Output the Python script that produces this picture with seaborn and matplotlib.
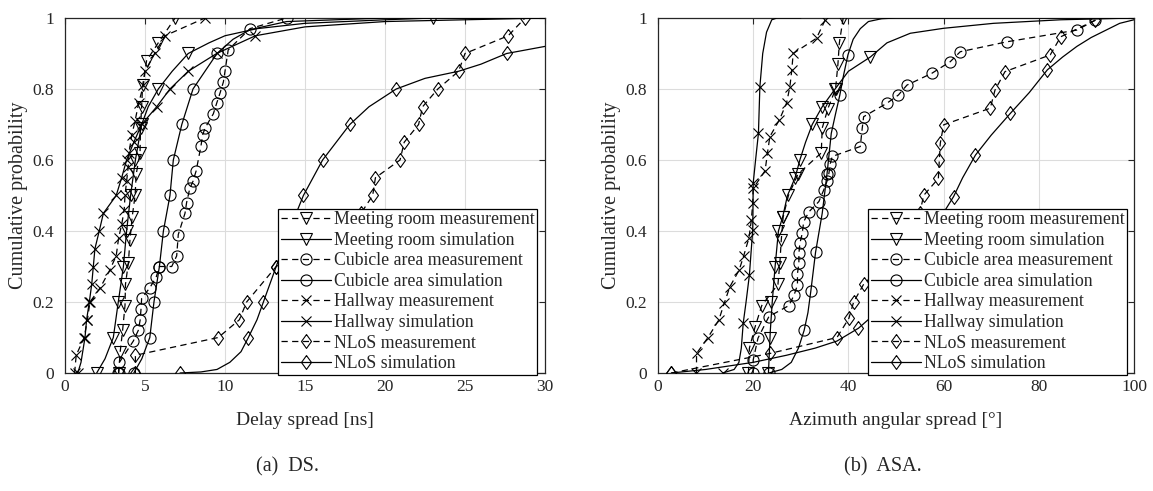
import numpy as np
import pandas as pd
import matplotlib
matplotlib.use("Agg")
import matplotlib.pyplot as plt
import seaborn as sns
from matplotlib.lines import Line2D
from matplotlib.ticker import FormatStrFormatter, MultipleLocator

# ---------------- (a) Delay spread [ns] ----------------
ds_meet_meas_x = [3.35, 3.45, 3.6, 3.75, 3.78, 3.96, 4.06, 4.2, 4.38, 4.45, 4.69, 4.72, 4.79, 4.85, 5.1, 5.83, 6.88]
ds_meet_meas_y = [0.0, 0.06, 0.12, 0.19, 0.25, 0.31, 0.375, 0.44, 0.5, 0.56, 0.62, 0.69, 0.75, 0.81, 0.88, 0.93, 1.0]
ds_meet_sim_x = [1.98, 2.5, 3.02, 3.33, 3.65, 3.85, 4.1, 4.4, 4.79, 5.2, 5.83, 6.7, 7.7, 9.0, 10.0, 12.0, 15.0, 20.0, 23.0, 30.0]
ds_meet_sim_y = [0.0, 0.04, 0.1, 0.2, 0.3, 0.4, 0.5, 0.6, 0.7, 0.75, 0.8, 0.85, 0.9, 0.93, 0.95, 0.97, 0.985, 0.995, 1.0, 1.0]
ds_meet_mk_x = [1.98, 3.02, 3.33, 3.65, 3.85, 4.1, 4.4, 4.79, 5.83, 7.7, 23.0]
ds_meet_mk_y = [0.0, 0.1, 0.2, 0.3, 0.4, 0.5, 0.6, 0.7, 0.8, 0.9, 1.0]

ds_cub_meas_x = [3.33, 3.35, 3.4, 4.27, 4.58, 4.7, 4.75, 4.79, 5.3, 5.7, 5.9, 6.67, 6.98, 7.08, 7.5, 7.6, 7.8, 8.0, 8.2, 8.5, 8.6, 8.75, 9.27, 9.48, 9.7, 9.9, 10.0, 10.2, 11.56, 13.85]
ds_cub_meas_y = [0.0, 0.0, 0.03, 0.09, 0.12, 0.15, 0.18, 0.21, 0.24, 0.27, 0.3, 0.3, 0.33, 0.39, 0.45, 0.48, 0.52, 0.54, 0.57, 0.64, 0.67, 0.69, 0.73, 0.76, 0.79, 0.82, 0.85, 0.91, 0.97, 1.0]
ds_cub_sim_x = [4.3, 4.8, 5.3, 5.56, 5.9, 6.15, 6.56, 6.77, 7.3, 8.0, 9.5, 10.5, 11.56, 13.85, 20.0, 30.0]
ds_cub_sim_y = [0.0, 0.04, 0.1, 0.2, 0.3, 0.4, 0.5, 0.6, 0.7, 0.8, 0.9, 0.94, 0.967, 0.99, 1.0, 1.0]
ds_cub_mk_x = [4.3, 5.3, 5.56, 5.9, 6.15, 6.56, 6.77, 7.3, 8.0, 9.5]
ds_cub_mk_y = [0.0, 0.1, 0.2, 0.3, 0.4, 0.5, 0.6, 0.7, 0.8, 0.9]

ds_hall_meas_x = [0.6, 0.7, 1.2, 1.4, 1.56, 2.2, 2.8, 3.2, 3.35, 3.55, 3.7, 3.75, 3.85, 3.95, 4.0, 4.17, 4.38, 4.6, 4.9, 5.0, 5.6, 6.25, 8.75]
ds_hall_meas_y = [0.0, 0.05, 0.1, 0.15, 0.2, 0.24, 0.29, 0.33, 0.38, 0.42, 0.46, 0.5, 0.54, 0.58, 0.62, 0.67, 0.71, 0.76, 0.81, 0.85, 0.9, 0.95, 1.0]
ds_hall_sim_x = [0.8, 1.0, 1.25, 1.35, 1.52, 1.67, 1.77, 1.87, 2.14, 2.4, 3.2, 3.54, 3.85, 4.3, 4.79, 5.73, 6.56, 7.7, 9.48, 11.9, 15.0, 20.0, 30.0]
ds_hall_sim_y = [0.0, 0.03, 0.1, 0.15, 0.2, 0.25, 0.3, 0.35, 0.4, 0.45, 0.5, 0.55, 0.6, 0.65, 0.7, 0.75, 0.8, 0.85, 0.9, 0.95, 0.975, 0.99, 1.0]
ds_hall_mk_x = [0.8, 1.25, 1.35, 1.52, 1.67, 1.77, 1.87, 2.14, 2.4, 3.2, 3.54, 3.85, 4.3, 4.79, 5.73, 6.56, 7.7, 9.48, 11.9]
ds_hall_mk_y = [0.0, 0.1, 0.15, 0.2, 0.25, 0.3, 0.35, 0.4, 0.45, 0.5, 0.55, 0.6, 0.65, 0.7, 0.75, 0.8, 0.85, 0.9, 0.95]

ds_nlos_meas_x = [4.4, 4.4, 9.58, 10.9, 11.35, 13.2, 15.0, 17.0, 18.5, 19.23, 19.4, 20.94, 21.2, 22.1, 22.35, 23.3, 24.6, 25.0, 27.7, 28.75]
ds_nlos_meas_y = [0.0, 0.05, 0.1, 0.15, 0.2, 0.3, 0.35, 0.4, 0.45, 0.5, 0.55, 0.6, 0.65, 0.7, 0.75, 0.8, 0.85, 0.9, 0.95, 1.0]
ds_nlos_sim_x = [7.19, 8.5, 9.5, 10.3, 11.0, 11.46, 12.0, 12.4, 13.2, 14.0, 14.9, 16.1, 17.8, 19.0, 20.7, 22.5, 24.6, 26.0, 27.6, 30.0]
ds_nlos_sim_y = [0.0, 0.003, 0.01, 0.03, 0.06, 0.1, 0.15, 0.2, 0.3, 0.4, 0.5, 0.6, 0.7, 0.75, 0.8, 0.83, 0.85, 0.87, 0.9, 0.92]
ds_nlos_mk_x = [7.19, 11.46, 12.4, 13.2, 14.0, 14.9, 16.1, 17.8, 20.7, 27.6]
ds_nlos_mk_y = [0.0, 0.1, 0.2, 0.3, 0.4, 0.5, 0.6, 0.7, 0.8, 0.9]

# ---------------- (b) Azimuth angular spread [deg] ----------------
as_meet_meas_x = [19.0, 19.2, 20.4, 21.8, 25.2, 25.6, 25.9, 26.3, 27.4, 29.4, 34.3, 34.5, 35.7, 37.3, 37.8, 38.1, 38.9]
as_meet_meas_y = [0.0, 0.07, 0.13, 0.19, 0.25, 0.31, 0.375, 0.44, 0.5, 0.56, 0.62, 0.69, 0.745, 0.8, 0.87, 0.93, 1.0]
as_meet_sim_x = [23.2, 23.4, 23.6, 24.0, 24.6, 25.3, 26.2, 27.2, 28.8, 29.8, 31.0, 32.4, 34.5, 37.2, 40.0, 44.6, 48.1, 53.0, 60.0, 70.5, 84.6, 100.0]
as_meet_sim_y = [0.0, 0.06, 0.12, 0.2, 0.3, 0.4, 0.44, 0.5, 0.55, 0.6, 0.65, 0.7, 0.75, 0.8, 0.85, 0.89, 0.93, 0.957, 0.971, 0.985, 0.995, 1.0]
as_meet_mk_x = [23.2, 23.5, 23.7, 24.6, 25.3, 26.2, 28.8, 29.8, 32.4, 34.5, 37.2, 44.6]
as_meet_mk_y = [0.0, 0.1, 0.2, 0.3, 0.4, 0.44, 0.55, 0.6, 0.7, 0.75, 0.8, 0.89]

as_cub_meas_x = [20.0, 20.0, 21.0, 23.3, 27.5, 28.6, 29.3, 29.3, 29.6, 29.6, 29.8, 30.3, 30.6, 31.7, 33.8, 34.8, 35.5, 35.9, 36.2, 36.6, 42.5, 42.9, 43.2, 48.1, 50.5, 52.3, 57.5, 61.4, 63.5, 73.3, 88.0, 91.9]
as_cub_meas_y = [0.0, 0.037, 0.098, 0.159, 0.19, 0.22, 0.248, 0.28, 0.31, 0.337, 0.365, 0.393, 0.426, 0.454, 0.483, 0.515, 0.54, 0.562, 0.59, 0.61, 0.638, 0.689, 0.722, 0.76, 0.783, 0.811, 0.844, 0.877, 0.905, 0.933, 0.966, 0.994]
as_cub_sim_x = [23.3, 26.0, 28.0, 29.5, 30.7, 31.5, 32.1, 33.1, 34.5, 35.5, 36.4, 37.3, 38.2, 39.0, 39.9, 41.0, 42.5, 44.2, 47.0, 50.0, 100.0]
as_cub_sim_y = [0.0, 0.01, 0.03, 0.07, 0.12, 0.17, 0.23, 0.34, 0.45, 0.56, 0.675, 0.73, 0.783, 0.84, 0.896, 0.94, 0.97, 0.99, 0.998, 1.0, 1.0]
as_cub_mk_x = [23.3, 30.7, 32.1, 33.1, 34.5, 35.5, 36.4, 38.2, 39.9]
as_cub_mk_y = [0.0, 0.12, 0.23, 0.34, 0.45, 0.56, 0.675, 0.783, 0.896]

as_hall_meas_x = [8.08, 8.1, 10.5, 12.8, 13.9, 15.1, 17.05, 18.0, 19.1, 19.6, 19.9, 20.0, 22.5, 23.0, 23.5, 25.5, 27.0, 27.7, 28.1, 28.4, 33.3, 35.1]
as_hall_meas_y = [0.0, 0.055, 0.1, 0.15, 0.196, 0.243, 0.29, 0.33, 0.38, 0.43, 0.478, 0.52, 0.57, 0.62, 0.666, 0.713, 0.76, 0.806, 0.853, 0.9, 0.943, 0.994]
as_hall_sim_x = [13.6, 16.0, 17.0, 17.5, 17.9, 18.5, 19.2, 19.9, 20.0, 20.5, 21.1, 21.4, 22.0, 22.8, 23.9, 25.0, 30.0]
as_hall_sim_y = [0.0, 0.01, 0.03, 0.07, 0.14, 0.2, 0.276, 0.403, 0.535, 0.6, 0.675, 0.806, 0.9, 0.96, 0.995, 1.0, 1.0]
as_hall_mk_x = [13.6, 17.9, 19.2, 19.9, 20.0, 21.1, 21.4]
as_hall_mk_y = [0.0, 0.14, 0.276, 0.403, 0.535, 0.675, 0.806]

as_nlos_meas_x = [2.8, 23.5, 37.6, 40.1, 41.1, 43.2, 47.0, 50.0, 53.0, 55.0, 55.8, 58.9, 59.1, 59.3, 60.0, 69.8, 70.8, 72.9, 82.4, 84.6, 91.9]
as_nlos_meas_y = [0.0, 0.055, 0.1, 0.154, 0.2, 0.25, 0.3, 0.35, 0.4, 0.45, 0.5, 0.548, 0.6, 0.647, 0.699, 0.746, 0.797, 0.849, 0.896, 0.947, 0.994]
as_nlos_sim_x = [2.8, 10.0, 20.0, 27.0, 33.0, 37.6, 42.1, 45.0, 48.0, 51.0, 55.0, 59.0, 62.1, 64.0, 66.7, 70.0, 74.0, 78.0, 81.8, 85.0, 88.0, 91.0, 94.0, 97.0, 100.0]
as_nlos_sim_y = [0.0, 0.01, 0.03, 0.05, 0.07, 0.09, 0.126, 0.16, 0.21, 0.27, 0.35, 0.43, 0.497, 0.55, 0.614, 0.67, 0.731, 0.79, 0.854, 0.89, 0.92, 0.945, 0.965, 0.985, 0.995]
as_nlos_mk_x = [2.8, 42.1, 51.0, 56.5, 62.1, 66.7, 74.0, 81.8]
as_nlos_mk_y = [0.0, 0.126, 0.27, 0.37, 0.497, 0.614, 0.731, 0.854]

labels = ["Meeting room measurement", "Meeting room simulation",
          "Cubicle area measurement", "Cubicle area simulation",
          "Hallway measurement", "Hallway simulation",
          "NLoS measurement", "NLoS simulation"]

# ---------------- styling ----------------
sns.set_style("white")
plt.rcParams['font.family'] = ['Liberation Serif', 'DejaVu Serif']
plt.rcParams['mathtext.fontset'] = 'stix'

DASH = (0, (5, 3.5))
LW = 0.9
MEW = 0.8
diamond = [(0, 1), (0.72, 0), (0, -1), (-0.72, 0), (0, 1)]
MARKERS = {"meet": ("v", 8.5), "cub": ("o", 8), "hall": ("x", 7.5), "nlos": (diamond, 10)}
INK = "black"


def mk_kws(key):
    m, s = MARKERS[key]
    return dict(marker=m, markersize=s, markerfacecolor="none",
                markeredgecolor=INK, markeredgewidth=MEW)


def draw_panel(ax, groups):
    for key, mx, my, sx, sy, kx, ky in groups:
        sns.lineplot(x=sx, y=sy, ax=ax, estimator=None, sort=False,
                     color=INK, linewidth=LW, zorder=3)
        sns.lineplot(x=kx, y=ky, ax=ax, estimator=None, sort=False,
                     color=INK, linestyle="", zorder=4, **mk_kws(key))
        sns.lineplot(x=mx, y=my, ax=ax, estimator=None, sort=False,
                     color=INK, linewidth=LW, linestyle=DASH, zorder=3, **mk_kws(key))
    handles = []
    for key in ["meet", "cub", "hall", "nlos"]:
        handles.append(Line2D([], [], color=INK, linewidth=LW, linestyle=DASH, **mk_kws(key)))
        handles.append(Line2D([], [], color=INK, linewidth=LW, linestyle="-", **mk_kws(key)))
    return handles


W, H = 1153, 491
fig = plt.figure(figsize=(W / 100, H / 100), dpi=100)
axL = fig.add_axes([65 / W, 1 - 373 / H, 480 / W, 355 / H])
axR = fig.add_axes([658 / W, 1 - 373 / H, 476 / W, 355 / H])

hL = draw_panel(axL, [
    ("meet", ds_meet_meas_x, ds_meet_meas_y, ds_meet_sim_x, ds_meet_sim_y, ds_meet_mk_x, ds_meet_mk_y),
    ("cub", ds_cub_meas_x, ds_cub_meas_y, ds_cub_sim_x, ds_cub_sim_y, ds_cub_mk_x, ds_cub_mk_y),
    ("hall", ds_hall_meas_x, ds_hall_meas_y, ds_hall_sim_x, ds_hall_sim_y, ds_hall_mk_x, ds_hall_mk_y),
    ("nlos", ds_nlos_meas_x, ds_nlos_meas_y, ds_nlos_sim_x, ds_nlos_sim_y, ds_nlos_mk_x, ds_nlos_mk_y),
])
hR = draw_panel(axR, [
    ("meet", as_meet_meas_x, as_meet_meas_y, as_meet_sim_x, as_meet_sim_y, as_meet_mk_x, as_meet_mk_y),
    ("cub", as_cub_meas_x, as_cub_meas_y, as_cub_sim_x, as_cub_sim_y, as_cub_mk_x, as_cub_mk_y),
    ("hall", as_hall_meas_x, as_hall_meas_y, as_hall_sim_x, as_hall_sim_y, as_hall_mk_x, as_hall_mk_y),
    ("nlos", as_nlos_meas_x, as_nlos_meas_y, as_nlos_sim_x, as_nlos_sim_y, as_nlos_mk_x, as_nlos_mk_y),
])

for ax, xmax, xstep, xlabel, handles, rgap in [
        (axL, 30, 5, "Delay spread [ns]", hL, 8 / 480),
        (axR, 100, 20, "Azimuth angular spread [°]", hR, 7 / 476)]:
    ax.set_xlim(0, xmax)
    ax.set_ylim(0, 1)
    ax.xaxis.set_major_locator(MultipleLocator(xstep))
    ax.yaxis.set_major_locator(MultipleLocator(0.2))
    ax.xaxis.set_major_formatter(FormatStrFormatter("%g"))
    ax.yaxis.set_major_formatter(FormatStrFormatter("%g"))
    ax.grid(True, color="#dcdcdc", linewidth=0.8)
    ax.set_axisbelow(True)
    for sp in ax.spines.values():
        sp.set_color("#262626")
        sp.set_linewidth(0.9)
        sp.set_visible(True)
    ax.tick_params(axis="both", direction="in", length=4, width=0.8, colors="#262626",
                   top=True, right=True, labelsize=12.5)
    ax.tick_params(axis="y", pad=8)
    ax.tick_params(axis="x", pad=4)
    ax.set_xlabel(xlabel, fontsize=14, color="#262626")
    ax.set_ylabel("Cumulative probability", fontsize=14.5, color="#262626")
    ax.xaxis.set_label_coords(0.5, -0.11)
    ax.yaxis.set_label_coords(-0.077, 0.5)
    leg = ax.legend(handles, labels, loc="lower right", bbox_to_anchor=(1 - rgap, -0.005),
                    borderaxespad=0, fontsize=12.8, frameon=True, fancybox=False,
                    edgecolor="black", framealpha=1, handlelength=2.8,
                    handletextpad=0.15, labelspacing=0.2, borderpad=0.15)
    leg.get_frame().set_linewidth(0.9)
    leg.set_zorder(10)

fig.text(287 / W, 1 - 467 / H, "(a)  DS.", ha="center", va="center", fontsize=14.5)
fig.text(883 / W, 1 - 467 / H, "(b)  ASA.", ha="center", va="center", fontsize=14.5)

fig.savefig("out.png", dpi=100, facecolor="white")
